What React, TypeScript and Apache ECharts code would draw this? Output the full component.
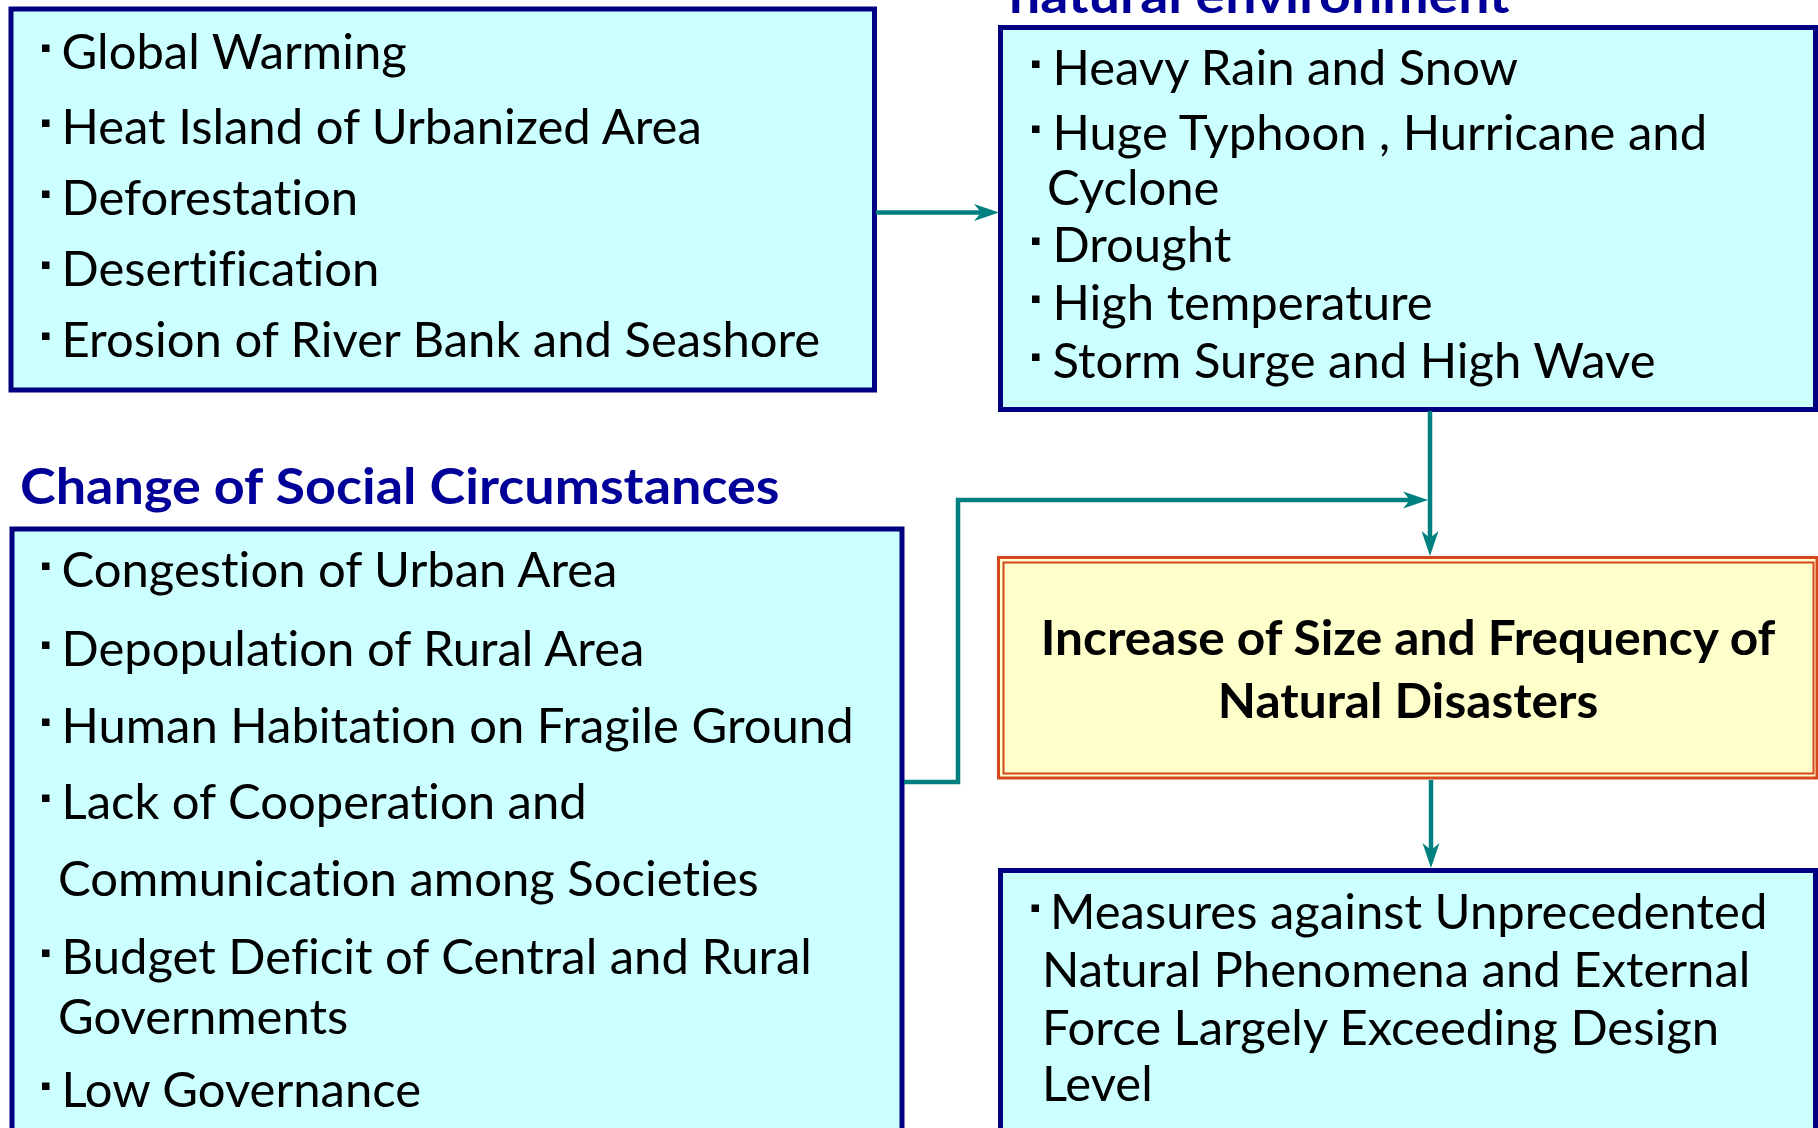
import React, { useEffect, useRef } from "react";
import * as echarts from "echarts";

// ---------- content ----------
const naturalCauseItems: string[][] = [
  ["Global Warming"],
  ["Heat Island of Urbanized Area"],
  ["Deforestation"],
  ["Desertification"],
  ["Erosion of River Bank and Seashore"],
];
const naturalCauseBaselines: number[][] = [[67], [142], [213], [284], [355]];

const naturalEnvTitle = "natural environment";
const naturalEnvItems: string[][] = [
  ["Heavy Rain and Snow"],
  ["Huge Typhoon , Hurricane and", "Cyclone"],
  ["Drought"],
  ["High temperature"],
  ["Storm Surge and High Wave"],
];
const naturalEnvBaselines: number[][] = [[83], [148, 203], [260], [318], [376]];

const socialTitle = "Change of Social Circumstances";
const socialItems: string[][] = [
  ["Congestion of Urban Area"],
  ["Depopulation of Rural Area"],
  ["Human Habitation on Fragile Ground"],
  ["Lack of Cooperation and", "Communication among Societies"],
  ["Budget Deficit of Central and Rural", "Governments"],
  ["Low Governance"],
];
const socialBaselines: number[][] = [[585], [664], [741], [817, 894], [972, 1032], [1105]];

const resultLines: string[] = ["Increase of Size and Frequency of", "Natural Disasters"];
const resultBaselines: number[] = [655, 718];

const measureItems: string[][] = [
  [
    "Measures against Unprecedented",
    "Natural Phenomena and External",
    "Force Largely Exceeding Design",
    "Level",
  ],
];
const measureBaselines: number[][] = [[927, 985, 1043, 1099]];

// ---------- style ----------
const FONT = "Lato";
const NAVY = "#000080";
const TITLE_BLUE = "#000099";
const TEAL = "#008080";
const CYAN_FILL = "#CCFFFF";
const YELLOW_FILL = "#FFFFCC";
const ORANGE = "#D4461B";

function measure(text: string, font: string): number {
  const c = document.createElement("canvas").getContext("2d");
  if (!c) return 1;
  c.font = font;
  return c.measureText(text).width || 1;
}

type TStyle = { size: number; weight: string; color: string; sx: number; align: string; k: number };

function makeStyle(
  size: number,
  weight: string,
  color: string,
  ref: string,
  target: number,
  k: number,
  align = "left"
): TStyle {
  const w = measure(ref, `${weight} ${size}px ${FONT}`);
  return { size, weight, color, sx: target / w, align, k };
}

function textEl(str: string, x: number, baseline: number, st: TStyle) {
  return {
    type: "text",
    x,
    y: baseline - st.k * st.size,
    scaleX: st.sx,
    scaleY: 1,
    silent: true,
    style: {
      text: str,
      fontFamily: FONT,
      fontSize: st.size,
      fontWeight: st.weight,
      fill: st.color,
      align: st.align,
      textAlign: st.align,
      verticalAlign: "middle",
      textVerticalAlign: "middle",
    },
  };
}

function boxEl(x: number, y: number, w: number, h: number, fill: string | null, stroke: string, lw: number) {
  return {
    type: "rect",
    silent: true,
    shape: { x, y, width: w, height: h },
    style: { fill: fill as any, stroke, lineWidth: lw },
  };
}

function lineEl(points: number[][]) {
  return {
    type: "polyline",
    silent: true,
    shape: { points },
    style: { stroke: TEAL, lineWidth: 4.5, fill: null },
  };
}

function arrowHead(tx: number, ty: number, dir: "right" | "down") {
  const L = 25;
  const Wd = 8.5;
  const n = 0.72;
  const pts =
    dir === "right"
      ? [[tx, ty], [tx - L, ty - Wd], [tx - L * n, ty], [tx - L, ty + Wd]]
      : [[tx, ty], [tx - Wd, ty - L], [tx, ty - L * n], [tx + Wd, ty - L]];
  return { type: "polygon", silent: true, shape: { points: pts }, style: { fill: TEAL } };
}

function bulletList(
  items: string[][],
  baselines: number[][],
  bulletX: number,
  textX: number,
  contX: number,
  st: TStyle
) {
  const els: any[] = [];
  items.forEach((lines, i) => {
    lines.forEach((line, j) => {
      const b = baselines[i][j];
      if (j === 0) {
        els.push({
          type: "rect",
          silent: true,
          shape: { x: bulletX, y: b - 22.5, width: 7.5, height: 7.5 },
          style: { fill: "#000" },
        });
        els.push(textEl(line, textX, b, st));
      } else {
        els.push(textEl(line, contX, b, st));
      }
    });
  });
  return els;
}

export default function App() {
  const ref = useRef<HTMLDivElement>(null);

  useEffect(() => {
    if (!ref.current) return;
    const chart = echarts.init(ref.current, null, { renderer: "svg" });

    const body = makeStyle(47.5, "normal", "#000", "Erosion of River Bank and Seashore", 761, 0.352);
    const title = makeStyle(50, "bold", TITLE_BLUE, socialTitle, 761, 0.387);
    const envTitle = makeStyle(50, "bold", TITLE_BLUE, naturalEnvTitle, 501, 0.387);
    const result = makeStyle(47.5, "bold", "#000", resultLines[0], 737, 0.387, "center");

    const elements: any[] = [
      // boxes
      boxEl(11, 9, 863.5, 381, CYAN_FILL, NAVY, 5),
      boxEl(1000.5, 27.5, 815, 382, CYAN_FILL, NAVY, 5),
      boxEl(12, 529, 890, 640, CYAN_FILL, NAVY, 5),
      boxEl(998.5, 557.5, 818.5, 220.5, YELLOW_FILL, ORANGE, 3),
      boxEl(1003.5, 562.5, 810, 211, null, ORANGE, 2),
      boxEl(1000.5, 870.5, 815, 300, CYAN_FILL, NAVY, 5),
      // connectors
      lineEl([[876, 212.5], [990, 212.5]]),
      arrowHead(999, 212.5, "right"),
      lineEl([[1430, 411], [1430, 548]]),
      arrowHead(1430, 556, "down"),
      lineEl([[904, 782], [958, 782], [958, 500], [1420, 500]]),
      arrowHead(1428, 500, "right"),
      lineEl([[1431, 780], [1431, 861]]),
      arrowHead(1431, 868, "down"),
      // titles
      textEl(naturalEnvTitle, 1009, 13, envTitle),
      textEl(socialTitle, 20, 504, title),
      // lists
      ...bulletList(naturalCauseItems, naturalCauseBaselines, 42, 61.5, 58, body),
      ...bulletList(naturalEnvItems, naturalEnvBaselines, 1032, 1052.5, 1047, body),
      ...bulletList(socialItems, socialBaselines, 42, 61.5, 58, body),
      ...bulletList(measureItems, measureBaselines, 1031.5, 1050, 1042, body),
      // result box text
      ...resultLines.map((l, i) => textEl(l, 1408, resultBaselines[i], result)),
    ];

    chart.setOption({
      animation: false,
      backgroundColor: "#ffffff",
      graphic: { elements },
    });

    return () => chart.dispose();
  }, []);

  return (
    <>
      <style>{`.diagram text { font-variant-ligatures: none; font-feature-settings: "liga" 0, "clig" 0; }`}</style>
      <div
        ref={ref}
        className="diagram"
        style={{ position: "fixed", left: 0, top: 0, width: "1818px", height: "1128px" }}
      />
    </>
  );
}
